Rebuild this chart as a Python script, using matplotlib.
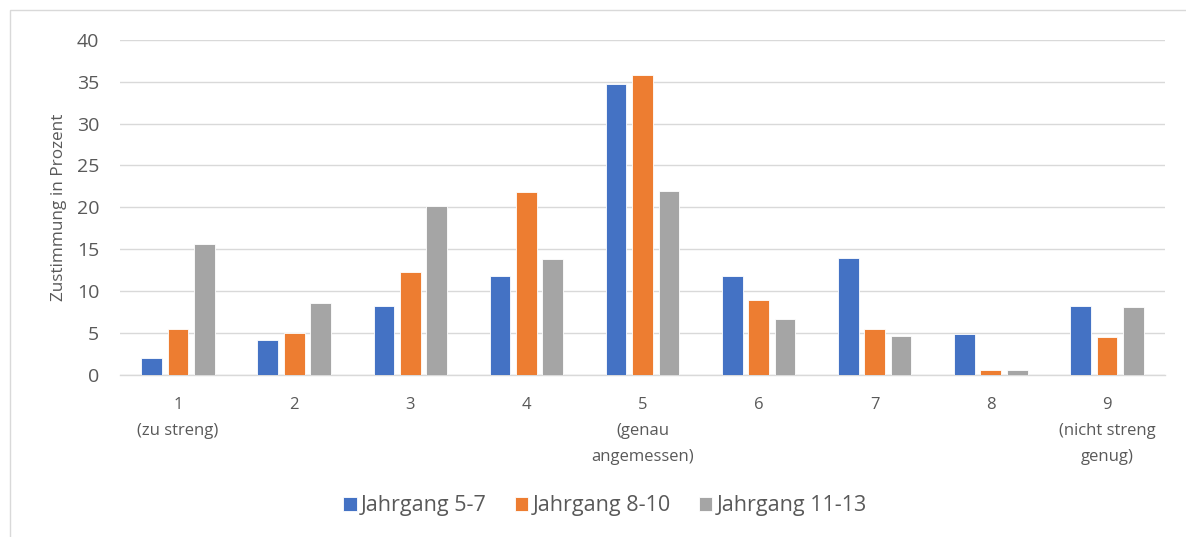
import matplotlib
matplotlib.use("Agg")
import matplotlib.pyplot as plt
from matplotlib.patches import Rectangle
import numpy as np

plt.rcParams['font.family'] = ['Open Sans', 'DejaVu Sans']

categories = ["1\n(zu streng)", "2", "3", "4", "5\n(genau\nangemessen)", "6", "7", "8",
              "9\n(nicht streng\ngenug)"]
series_names = ["Jahrgang 5-7", "Jahrgang 8-10", "Jahrgang 11-13"]
jg_5_7 = [2.0, 4.1, 8.25, 11.8, 34.7, 11.8, 13.9, 4.8, 8.25]
jg_8_10 = [5.5, 5.0, 12.2, 21.8, 35.8, 8.9, 5.5, 0.5, 4.5]
jg_11_13 = [15.6, 8.6, 20.2, 13.8, 21.9, 6.6, 4.6, 0.5, 8.1]
colors = ["#4472C4", "#ED7D31", "#A5A5A5"]
yticks = [0, 5, 10, 15, 20, 25, 30, 35, 40]

W, H = 1186, 537
fig = plt.figure(figsize=(W / 100, H / 100), dpi=100)
fig.patch.set_facecolor("white")

# outer chart border
fig.patches.append(Rectangle((10 / W, -0.1), 1.2, 1 - 10 / H + 0.1,
                             transform=fig.transFigure, fill=False,
                             edgecolor="#d9d9d9", linewidth=1.0))

ax = fig.add_axes([120 / W, 1 - 374.5 / H, (1165 - 120) / W, (374.5 - 40) / H])

x = np.arange(1, len(categories) + 1)
step = 0.227
width = 0.178
for i, (vals, name, c) in enumerate(zip([jg_5_7, jg_8_10, jg_11_13], series_names, colors)):
    ax.bar(x + (i - 1) * step, vals, width, color=c, label=name,
           edgecolor="white", linewidth=0.6, zorder=3)

ax.set_xlim(0.5, len(categories) + 0.5)
ax.set_ylim(0, 40)
ax.set_yticks(yticks)
ax.set_yticklabels([str(v) for v in yticks], fontsize=14, color="#595959")
ax.set_xticks(x)
ax.set_xticklabels(categories, fontsize=12, color="#595959", linespacing=1.85)
ax.tick_params(axis="both", length=0)
ax.tick_params(axis="y", pad=15)
ax.tick_params(axis="x", pad=16)
ax.grid(axis="y", color="#d9d9d9", linewidth=1.0, zorder=0)
for s in ["top", "right", "left"]:
    ax.spines[s].set_visible(False)
ax.spines["bottom"].set_color("#d9d9d9")
ax.spines["bottom"].set_linewidth(1.0)
ax.set_ylabel("Zustimmung in Prozent", fontsize=12.3, color="#595959", labelpad=7)

leg = fig.legend(loc="center", bbox_to_anchor=(605 / W, 1 - 506 / H), ncol=3,
                 frameon=False, fontsize=15.5, handlelength=0.62, handleheight=0.62,
                 handletextpad=0.2, columnspacing=1.3)
for t in leg.get_texts():
    t.set_color("#595959")

fig.savefig("out.png", dpi=100)
